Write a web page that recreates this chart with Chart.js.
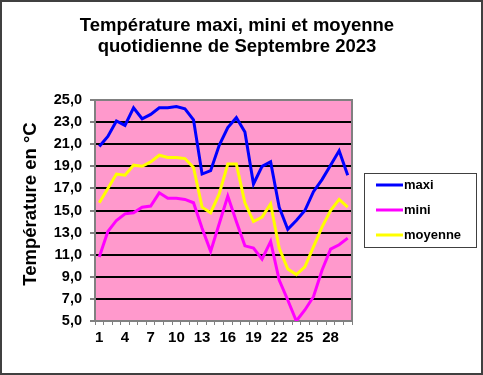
<!DOCTYPE html>
<html>
<head>
<meta charset="utf-8">
<script src="https://cdn.jsdelivr.net/npm/chart.js@4/dist/chart.umd.min.js"></script>
<style>
  body { margin: 0; background: #fff; }
  #wrap { width: 483px; height: 375px; }
</style>
</head>
<body>
<div id="wrap"><canvas id="chart" width="483" height="375"></canvas></div>
<script>
// data (°C), days 1..30
const days = ['1','2','3','4','5','6','7','8','9','10','11','12','13','14','15','16','17','18','19','20','21','22','23','24','25','26','27','28','29','30'];
const maxi = [20.8, 21.7, 23.1, 22.7, 24.3, 23.3, 23.7, 24.3, 24.3, 24.4, 24.2, 23.2, 18.3, 18.6, 20.9, 22.5, 23.4, 22.1, 17.4, 19.0, 19.4, 15.3, 13.3, 14.1, 15.0, 16.7, 17.8, 19.1, 20.4, 18.2];
const mini = [10.8, 13.1, 14.1, 14.7, 14.8, 15.3, 15.4, 16.6, 16.1, 16.1, 16.0, 15.7, 13.4, 11.3, 13.8, 16.3, 14.0, 11.8, 11.6, 10.6, 12.2, 8.7, 6.9, 5.0, 6.0, 7.2, 9.6, 11.5, 11.9, 12.5];
const moyenne = [15.7, 17.0, 18.3, 18.2, 19.1, 19.0, 19.4, 20.0, 19.8, 19.8, 19.7, 18.9, 15.3, 14.8, 16.5, 19.2, 19.2, 15.7, 14.0, 14.4, 15.6, 11.6, 9.7, 9.2, 9.9, 11.7, 13.5, 15.0, 16.0, 15.3];
const titleLines = ['Température maxi, mini et moyenne', 'quotidienne de Septembre 2023'];
const yTitle = 'Température en °C';

const FONT = 'Arial, "Liberation Sans", sans-serif';

// pink plot background, titles, legend box and outer frame
const decor = {
    id: 'decor',
    beforeDraw(chart) {
        const { ctx, chartArea: a } = chart;
        ctx.save();
        ctx.fillStyle = '#fff';
        ctx.fillRect(0, 0, chart.width, chart.height);
        ctx.fillStyle = '#FF99CC';
        ctx.fillRect(a.left, a.top, a.right - a.left, a.bottom - a.top);
        ctx.restore();
    },
    afterDraw(chart) {
        const { ctx, chartArea: a } = chart;
        ctx.save();
        // plot frame top/right
        ctx.strokeStyle = '#808080';
        ctx.lineWidth = 2;
        ctx.beginPath();
        ctx.moveTo(a.left, a.top);
        ctx.lineTo(a.right, a.top);
        ctx.lineTo(a.right, a.bottom);
        ctx.stroke();

        // title
        ctx.fillStyle = '#000';
        ctx.font = 'bold 18.5px ' + FONT;
        ctx.textAlign = 'center';
        ctx.textBaseline = 'middle';
        ctx.fillText(titleLines[0], 237, 26);
        ctx.fillText(titleLines[1], 237, 47);

        // y axis title
        ctx.save();
        ctx.translate(31, 204);
        ctx.rotate(-Math.PI / 2);
        ctx.font = 'bold 18.5px ' + FONT;
        ctx.fillText(yTitle, 0, 0);
        ctx.restore();

        // legend
        ctx.fillStyle = '#fff';
        ctx.fillRect(364, 173, 112, 74);
        ctx.strokeStyle = '#404040';
        ctx.lineWidth = 1;
        ctx.strokeRect(364.5, 173.5, 112, 74);
        ctx.font = 'bold 13px ' + FONT;
        ctx.textAlign = 'left';
        chart.data.datasets.forEach((ds, i) => {
            const y = 185 + i * 25;
            ctx.strokeStyle = ds.borderColor;
            ctx.lineWidth = 3;
            ctx.beginPath();
            ctx.moveTo(376, y);
            ctx.lineTo(403, y);
            ctx.stroke();
            ctx.fillStyle = '#000';
            ctx.fillText(ds.label, 404, y);
        });

        // outer frame
        ctx.strokeStyle = '#404040';
        ctx.lineWidth = 2;
        ctx.strokeRect(1, 1, chart.width - 2, chart.height - 2);
        ctx.restore();
    }
};

new Chart(document.getElementById('chart'), {
    type: 'line',
    data: {
        labels: days,
        datasets: [
            { label: 'maxi', data: maxi, borderColor: '#0000FF' },
            { label: 'mini', data: mini, borderColor: '#FF00FF' },
            { label: 'moyenne', data: moyenne, borderColor: '#FFFF00' }
        ]
    },
    options: {
        responsive: false,
        animation: false,
        layout: { padding: { left: 15, right: 131, top: 100, bottom: 10 } },
        elements: {
            line: { borderWidth: 3, tension: 0 },
            point: { radius: 0 }
        },
        plugins: {
            legend: { display: false },
            title: { display: false },
            tooltip: { enabled: false }
        },
        scales: {
            x: {
                type: 'category',
                offset: true,
                afterFit: s => { s.height = 44; },
                grid: {
                    offset: true,
                    drawOnChartArea: false,
                    drawTicks: true,
                    tickLength: 4,
                    color: '#808080'
                },
                border: { color: '#808080', width: 2 },
                ticks: {
                    autoSkip: false,
                    maxRotation: 0,
                    padding: 4,
                    color: '#000',
                    font: { family: FONT, size: 15, weight: 'bold' },
                    callback: (v, i) => (i % 3 === 0 ? days[i] : '')
                }
            },
            y: {
                min: 5,
                max: 25,
                afterFit: s => { s.width = 80; },
                grid: {
                    color: ctx => (ctx.tick && ctx.tick.value === 25 ? '#808080' : '#000'),
                    lineWidth: 2,
                    drawTicks: true,
                    tickLength: 5,
                    tickColor: '#808080'
                },
                border: { color: '#808080', width: 2 },
                ticks: {
                    stepSize: 2,
                    padding: 8,
                    color: '#000',
                    font: { family: FONT, size: 14.5, weight: 'bold' },
                    callback: v => v.toFixed(1).replace('.', ',')
                }
            }
        }
    },
    plugins: [decor]
});
</script>
</body>
</html>
